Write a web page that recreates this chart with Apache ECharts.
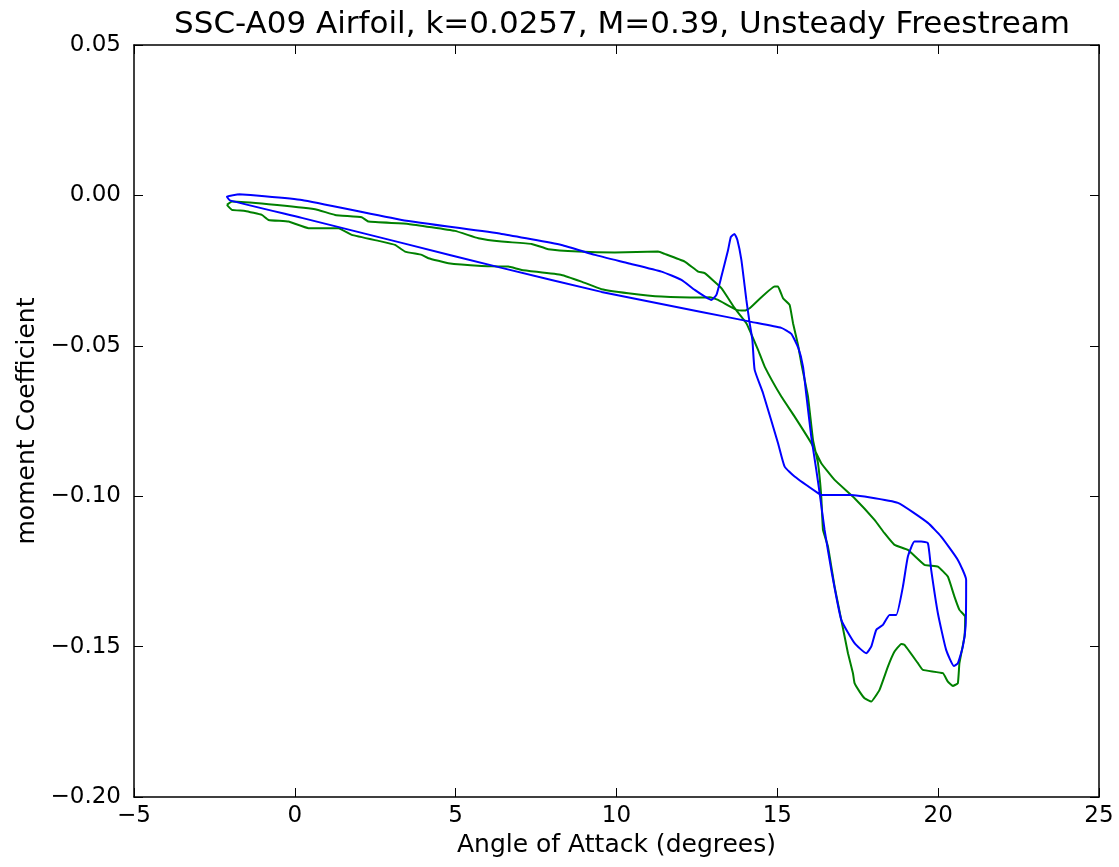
<!DOCTYPE html>
<html>
<head>
<meta charset="utf-8">
<script src="https://cdn.jsdelivr.net/npm/echarts@6/dist/echarts.min.js"></script>
<style>html,body{margin:0;padding:0;background:#fff}#c{width:1119px;height:867px}</style>
</head>
<body>
<div id="c"></div>
<script>
const titleText = 'SSC-A09 Airfoil, k=0.0257, M=0.39, Unsteady Freestream';
const xName = 'Angle of Attack (degrees)';
const yName = 'moment Coefficient';
const xTicks = [-5, 0, 5, 10, 15, 20, 25];
const yTicks = [-0.20, -0.15, -0.10, -0.05, 0.00, 0.05];

const blueAlpha = [-1.748,-2.112,-2.019,0.217,3.323,6.429,9.534,12.640,14.193,15.124,15.435,15.652,15.798,15.901,16.056,16.211,16.314,16.469,16.677,16.988,17.401,17.764,17.919,18.075,18.283,18.488,18.696,18.904,19.059,19.264,19.472,19.680,19.783,19.991,20.248,20.488,20.612,20.767,20.854,20.870,20.612,20.093,19.680,18.748,17.711,17.298,16.366,16.264,15.537,15.227,15.022,14.556,14.295,14.224,14.140,14.037,13.882,13.758,13.665,13.556,13.469,13.261,13.106,12.950,12.764,12.432,12.019,11.398,10.363,9.326,8.292,6.429,3.323,0.217,-1.025,-1.748];
const blueCm = [0.0004,-0.0004,-0.00166,-0.00748,-0.01579,-0.02410,-0.03208,-0.03873,-0.04205,-0.04405,-0.04604,-0.05070,-0.05691,-0.06632,-0.08029,-0.09126,-0.09890,-0.11120,-0.12450,-0.14112,-0.14887,-0.15219,-0.15000,-0.14445,-0.14279,-0.13946,-0.13946,-0.13005,-0.12008,-0.11509,-0.11509,-0.11562,-0.12450,-0.13890,-0.15110,-0.15642,-0.15552,-0.15000,-0.14312,-0.12783,-0.12118,-0.11343,-0.10888,-0.10223,-0.10013,-0.09957,-0.09957,-0.09900,-0.09348,-0.09016,-0.08238,-0.06576,-0.05801,-0.04804,-0.04249,-0.03474,-0.02144,-0.01479,-0.01280,-0.01380,-0.01812,-0.02699,-0.03308,-0.03474,-0.03374,-0.03142,-0.02809,-0.02533,-0.02254,-0.01978,-0.01646,-0.01280,-0.00815,-0.0015,-0.00017,0.0004];

const greenAlpha = [-2.112,-1.957,-0.817,0.630,1.252,2.081,2.289,3.531,4.978,5.705,6.429,7.360,7.879,8.811,9.947,11.295,11.500,12.121,12.537,12.742,13.261,13.674,14.037,14.401,14.606,15.124,15.537,16.056,16.366,16.780,17.401,18.022,18.332,18.643,19.059,19.575,19.991,20.301,20.506,20.661,20.839,20.817,20.661,20.612,20.457,20.301,20.146,19.525,19.370,18.954,18.851,18.643,18.438,18.177,17.919,17.711,17.556,17.401,17.351,17.196,16.988,16.780,16.575,16.419,16.366,16.264,16.109,15.953,15.745,15.643,15.488,15.382,15.177,15.022,14.916,14.140,13.984,13.727,13.158,12.898,12.640,11.398,10.363,9.534,8.913,8.292,7.050,6.637,5.807,4.773,4.152,3.944,3.425,3.115,2.702,1.770,1.357,0.425,-0.196,-0.817,-1.025,-1.543,-1.957,-2.112];
const greenCm = [-0.00316,-0.00206,-0.00293,-0.00459,-0.00648,-0.00725,-0.00871,-0.00947,-0.01180,-0.01423,-0.01536,-0.01612,-0.01789,-0.01868,-0.01902,-0.01868,-0.01945,-0.02201,-0.02533,-0.02586,-0.03085,-0.03750,-0.04249,-0.05136,-0.05691,-0.06689,-0.07354,-0.08238,-0.08903,-0.09458,-0.10066,-0.10788,-0.11230,-0.11619,-0.11785,-0.12284,-0.12340,-0.12673,-0.13338,-0.13780,-0.14003,-0.14668,-0.15552,-0.16217,-0.16307,-0.16164,-0.15884,-0.15775,-0.15552,-0.14944,-0.14910,-0.15166,-0.15665,-0.16439,-0.16828,-0.16715,-0.16496,-0.16217,-0.15884,-0.15219,-0.14112,-0.13005,-0.11676,-0.11120,-0.10013,-0.08903,-0.08128,-0.06689,-0.05578,-0.04970,-0.04249,-0.03640,-0.03418,-0.03032,-0.03032,-0.03750,-0.03830,-0.03807,-0.03474,-0.03384,-0.03398,-0.03364,-0.03251,-0.03118,-0.02866,-0.02643,-0.02477,-0.02367,-0.02344,-0.02254,-0.02088,-0.01978,-0.01868,-0.01646,-0.01536,-0.01313,-0.01090,-0.01090,-0.00871,-0.00815,-0.00648,-0.00515,-0.00482,-0.00316];

function zip(a, b) { return a.map((v, i) => [v, b[i]]); }
const FONT = 'DejaVu Sans';
const fmtX = v => (v < 0 ? '\u2212' + Math.abs(v) : String(v));
const fmtY = v => (v < 0 ? '\u2212' + Math.abs(v).toFixed(2) : v.toFixed(2));

const axisLine = { show: true, onZero: false, lineStyle: { color: '#000', width: 1.5 } };
const tickIn = { show: true, inside: true, length: 9, lineStyle: { color: '#000', width: 1 } };

const chart = echarts.init(document.getElementById('c'), null, { renderer: 'canvas' });
chart.setOption({
  animation: false,
  backgroundColor: '#fff',
  title: {
    text: titleText, left: 617, top: 4, textAlign: 'center',
    textStyle: { fontFamily: FONT, fontSize: 31, fontWeight: 'normal', color: '#000' }
  },
  grid: { left: 134, right: 20, top: 45, bottom: 70, containLabel: false },
  xAxis: [{
    type: 'value', min: xTicks[0], max: xTicks[xTicks.length - 1], interval: 5, position: 'bottom',
    name: xName, nameLocation: 'middle', nameGap: 36,
    nameTextStyle: { fontFamily: FONT, fontSize: 25, color: '#000' },
    axisLine, axisTick: tickIn, splitLine: { show: false },
    axisLabel: { formatter: fmtX, fontFamily: FONT, fontSize: 23, color: '#000', margin: 8 }
  }, {
    type: 'value', min: xTicks[0], max: xTicks[xTicks.length - 1], interval: 5, position: 'top',
    axisLine, axisTick: tickIn, splitLine: { show: false }, axisLabel: { show: false }
  }],
  yAxis: [{
    type: 'value', min: yTicks[0], max: yTicks[yTicks.length - 1], interval: 0.05, position: 'left',
    name: yName, nameLocation: 'middle', nameGap: 91, nameRotate: 90,
    nameTextStyle: { fontFamily: FONT, fontSize: 25, color: '#000' },
    axisLine, axisTick: tickIn, splitLine: { show: false },
    axisLabel: { formatter: fmtY, fontFamily: FONT, fontSize: 23, color: '#000', margin: 13 }
  }, {
    type: 'value', min: yTicks[0], max: yTicks[yTicks.length - 1], interval: 0.05, position: 'right',
    axisLine, axisTick: tickIn, splitLine: { show: false }, axisLabel: { show: false }
  }],
  series: [{
    type: 'line', data: zip(blueAlpha, blueCm), showSymbol: false, symbol: 'none', smooth: 0.15,
    lineStyle: { color: '#0000ff', width: 2 }, z: 3
  }, {
    type: 'line', data: zip(greenAlpha, greenCm), showSymbol: false, symbol: 'none', smooth: 0.1,
    lineStyle: { color: '#008000', width: 2 }, z: 2
  }]
});
</script>
</body>
</html>
